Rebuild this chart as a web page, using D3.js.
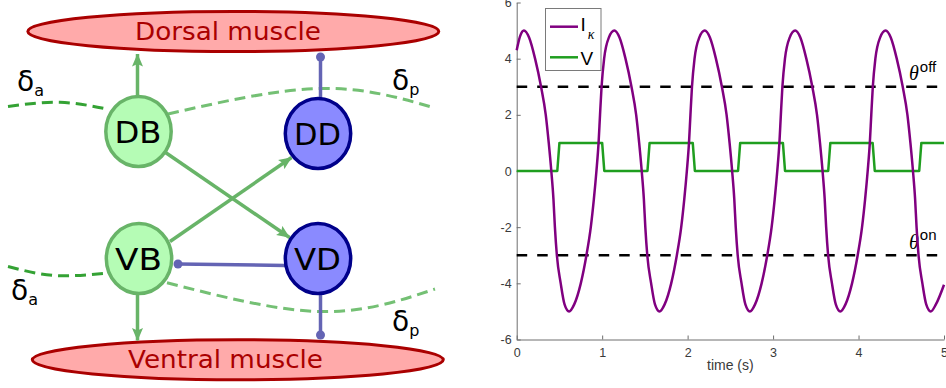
<!DOCTYPE html>
<html>
<head>
<meta charset="utf-8">
<script src="https://cdn.jsdelivr.net/npm/d3@7"></script>
<style>
body{margin:0;background:#fff;}
svg{display:block;}
</style>
</head>
<body>
<script>
// values
var timeI = [0, 0.04, 0.085, 0.145, 0.215, 0.285, 0.34, 0.375, 0.405, 0.43, 0.447, 0.47, 0.515, 0.56, 0.613,
  0.673, 0.75, 0.816, 0.867, 0.903, 0.933, 0.958, 0.975, 0.993, 1.023, 1.078, 1.143,
  1.203, 1.273, 1.343, 1.398, 1.433, 1.463, 1.488, 1.505, 1.528, 1.573, 1.618, 1.671,
  1.731, 1.808, 1.874, 1.925, 1.961, 1.991, 2.016, 2.033, 2.051, 2.081, 2.136, 2.201,
  2.261, 2.331, 2.401, 2.456, 2.491, 2.521, 2.546, 2.563, 2.586, 2.631, 2.676, 2.729,
  2.789, 2.866, 2.932, 2.983, 3.019, 3.049, 3.074, 3.091, 3.109, 3.139, 3.194, 3.259,
  3.319, 3.389, 3.459, 3.514, 3.549, 3.579, 3.604, 3.621, 3.644, 3.689, 3.734, 3.787,
  3.847, 3.924, 3.99, 4.041, 4.077, 4.107, 4.132, 4.149, 4.167, 4.197, 4.252, 4.317,
  4.377, 4.447, 4.517, 4.572, 4.607, 4.637, 4.662, 4.679, 4.702, 4.747, 4.792, 4.845,
  4.905, 5.0];
var currentI = [4.3, 4.8, 5, 4.75, 4, 3, 2, 1, 0, -1, -2, -3, -4, -4.75, -5,
  -4.75, -4, -3, -2, -1, 0, 1, 2, 3, 4, 4.75, 5,
  4.75, 4, 3, 2, 1, 0, -1, -2, -3, -4, -4.75, -5,
  -4.75, -4, -3, -2, -1, 0, 1, 2, 3, 4, 4.75, 5,
  4.75, 4, 3, 2, 1, 0, -1, -2, -3, -4, -4.75, -5,
  -4.75, -4, -3, -2, -1, 0, 1, 2, 3, 4, 4.75, 5,
  4.75, 4, 3, 2, 1, 0, -1, -2, -3, -4, -4.75, -5,
  -4.75, -4, -3, -2, -1, 0, 1, 2, 3, 4, 4.75, 5,
  4.75, 4, 3, 2, 1, 0, -1, -2, -3, -4, -4.75, -5,
  -4.75, -4.05];
var timeV = [0, 0.475, 0.5, 1.0, 1.025, 1.53, 1.555, 2.06, 2.085, 2.59, 2.615, 3.115, 3.14,
  3.645, 3.67, 4.165, 4.19, 4.71, 4.735, 5.0];
var voltV = [0, 0, 1, 1, 0, 0, 1, 1, 0, 0, 1, 1, 0, 0, 1, 1, 0, 0, 1, 1];
var thresholds = [3, -3];
var thresholdNames = ["off", "on"];
var xTicks = [0, 1, 2, 3, 4, 5];
var yTicks = [6, 4, 2, 0, -2, -4, -6];
var seriesNames = ["I", "V"];

var cellNames = ["DB", "DD", "VB", "VD"];
var muscleNames = ["Dorsal muscle", "Ventral muscle"];

var W = 946, H = 388;
var svg = d3.select("body").append("svg").attr("width", W).attr("height", H)
  .attr("viewBox", "0,0," + W + "," + H);

//COLOURS
var green = "#68b468", greenFill = "#b5fcb5";
var blue = "#6464b4", blueFill = "#8a8aff", navy = "#00008a";
var muscleRed = "#aa0000", muscleFill = "#ffaaaa";
var purple = "#800080", vGreen = "#1f9e1f";

// ---------------- left: circuit diagram ----------------
var diag = svg.append("g").attr("id", "diagram");
var defs = svg.append("defs");
defs.append("marker").attr("id", "arrowGreen")
  .attr("viewBox", "0 0 13 12").attr("refX", 12.5).attr("refY", 6)
  .attr("markerWidth", 13).attr("markerHeight", 12)
  .attr("markerUnits", "userSpaceOnUse").attr("orient", "auto")
  .append("path").attr("d", "M0,0.5 L13,6 L0,11.5 L2.5,6 Z").attr("fill", green);

var cellPos = {DB: [138.5, 131.5], DD: [318, 133.5], VB: [139, 258.5], VD: [318, 258.5]};
var musclePos = [[233.3, 31.5, 205.5, 20], [237.8, 359.8, 205.5, 20]];
var muscleText = [[228, 40, 186], [225.5, 368, 195]];

// dashed coupling curves
var curve = d3.line().curve(d3.curveNatural);
var dashed = [
  {pts: [[8, 106.5], [60, 102.3], [108, 109.3]], col: "#34a234", dash: "11,6"},
  {pts: [[168, 114], [320, 88.5], [435, 108]], col: "#74c074", dash: "11,6"},
  {pts: [[8, 266.5], [55, 275.5], [107, 273]], col: "#34a234", dash: "11,6"},
  {pts: [[167, 282.7], [320, 311.5], [435, 289]], col: "#74c074", dash: "11,6"}
];
dashed.forEach(function(d){
  diag.append("path").attr("d", curve(d.pts)).attr("fill", "none")
    .attr("stroke", d.col).attr("stroke-width", 3).attr("stroke-dasharray", d.dash);
});

// muscles
musclePos.forEach(function(m, i){
  diag.append("ellipse").attr("cx", m[0]).attr("cy", m[1]).attr("rx", m[2]).attr("ry", m[3])
    .attr("fill", muscleFill).attr("stroke", muscleRed).attr("stroke-width", 3);
  diag.append("text").attr("x", muscleText[i][0]).attr("y", muscleText[i][1])
    .attr("text-anchor", "middle").attr("font-family", "DejaVu Sans").attr("font-size", 24)
    .attr("textLength", muscleText[i][2]).attr("lengthAdjust", "spacingAndGlyphs")
    .attr("fill", muscleRed).text(muscleNames[i]);
});

// connections
function link(a, b, col, head){
  var l = diag.append("line").attr("x1", a[0]).attr("y1", a[1]).attr("x2", b[0]).attr("y2", b[1])
    .attr("stroke", col).attr("stroke-width", 3.5);
  if(head == "arrow") l.attr("marker-end", "url(#arrowGreen)");
}
function dot(p){
  diag.append("circle").attr("cx", p[0]).attr("cy", p[1]).attr("r", 4.5).attr("fill", blue);
}
link([137.5, 97], [137.5, 54], green, "arrow");
link([320.5, 98], [320.5, 57], blue); dot([320.5, 57]);
link([165.5, 152.5], [289.5, 237.5], green, "arrow");
link([170, 241.5], [291.5, 157.5], green, "arrow");
link([178, 264], [285, 265.5], blue); dot([178, 264]);
link([137.5, 294], [137.5, 340.5], green, "arrow");
link([320.5, 294], [320.5, 335], blue); dot([320.5, 335]);

// cells
cellNames.forEach(function(name){
  var p = cellPos[name];
  var isB = name.charAt(1) == "B";
  diag.append("ellipse").attr("cx", p[0]).attr("cy", p[1]).attr("rx", 32.7).attr("ry", 35)
    .attr("fill", isB ? greenFill : blueFill).attr("stroke", isB ? green : navy).attr("stroke-width", 3.5);
  diag.append("text").attr("x", p[0] - 0.5).attr("y", p[1] + 11.5).attr("text-anchor", "middle")
    .attr("font-family", "DejaVu Sans").attr("font-size", 30)
    .attr("textLength", 47).attr("lengthAdjust", "spacingAndGlyphs")
    .attr("fill", "#000").text(name);
});

// delta labels
var deltaLabels = [[17, 91, "a"], [392, 90, "p"], [11, 300, "a"], [392, 331, "p"]];
deltaLabels.forEach(function(d){
  var t = diag.append("text").attr("x", d[0]).attr("y", d[1])
    .attr("font-family", "DejaVu Sans").attr("font-size", 28).attr("fill", "#000");
  t.append("tspan").text("δ");
  t.append("tspan").attr("font-size", 16).attr("dy", 5).text(d[2]);
});

// ---------------- right: time plot ----------------
var plot = svg.append("g").attr("id", "plot");
var x = d3.scaleLinear().domain([0, 5]).range([516.7, 944]);
var y = d3.scaleLinear().domain([-6, 6]).range([339.5, 2.5]);

var axisCol = "#6e6e6e", labelCol = "#3a3a3a";
var plain = function(d){ return String(d); };
var xAxis = plot.append("g").attr("transform", "translate(0," + y(-6) + ")")
  .call(d3.axisBottom(x).tickValues(xTicks).tickFormat(plain).tickSizeInner(-4).tickSizeOuter(0).tickPadding(9));
var yAxis = plot.append("g").attr("transform", "translate(" + x(0) + ",0)")
  .call(d3.axisLeft(y).tickValues(yTicks).tickFormat(plain).tickSizeInner(-4).tickSizeOuter(0).tickPadding(5));
[xAxis, yAxis].forEach(function(a){
  a.select(".domain").attr("stroke", axisCol);
  a.selectAll(".tick line").attr("stroke", axisCol);
  a.selectAll("text").attr("fill", labelCol).attr("font-family", "Liberation Sans").attr("font-size", 12.5);
});

plot.append("text").attr("x", x(2.5)).attr("y", 370).attr("text-anchor", "middle")
  .attr("font-family", "Liberation Sans").attr("font-size", 14).attr("fill", labelCol).text("time (s)");

// threshold lines
thresholds.forEach(function(th, i){
  plot.append("line").attr("x1", x(0)).attr("x2", x(5)).attr("y1", y(th)).attr("y2", y(th))
    .attr("stroke", "#000").attr("stroke-width", 2.5).attr("stroke-dasharray", "10.5,10");
  var lab = plot.append("text").attr("x", 909).attr("y", y(th) - 6.5).attr("fill", "#000");
  lab.append("tspan").attr("font-family", "Liberation Serif").attr("font-style", "italic")
    .attr("font-size", 20).text("θ");
  lab.append("tspan").attr("font-family", "Liberation Sans").attr("font-size", 15)
    .attr("dx", 1).attr("dy", -8.5).text(thresholdNames[i]);
});

var iLine = d3.line().x(function(d){ return x(d[0]); }).y(function(d){ return y(d[1]); })
  .curve(d3.curveMonotoneX);
var vLine = d3.line().x(function(d){ return x(d[0]); }).y(function(d){ return y(d[1]); });

plot.append("path").attr("d", vLine(d3.zip(timeV, voltV))).attr("fill", "none")
  .attr("stroke", vGreen).attr("stroke-width", 2.5).attr("stroke-linejoin", "round");
plot.append("path").attr("d", iLine(d3.zip(timeI, currentI))).attr("fill", "none")
  .attr("stroke", purple).attr("stroke-width", 2.5);

// legend
var leg = plot.append("g");
leg.append("rect").attr("x", 545.5).attr("y", 8.5).attr("width", 55.5).attr("height", 62)
  .attr("fill", "#fff").attr("stroke", "#7a7a7a").attr("stroke-width", 1);
[[purple, 26.7], [vGreen, 57.3]].forEach(function(s, i){
  leg.append("line").attr("x1", 550).attr("x2", 578).attr("y1", s[1]).attr("y2", s[1])
    .attr("stroke", s[0]).attr("stroke-width", 2.5);
  var t = leg.append("text").attr("x", 580.5).attr("y", s[1] + (i == 0 ? 4.5 : 8))
    .attr("font-family", "Liberation Sans").attr("font-size", 19).attr("fill", "#000")
    .text(seriesNames[i]);
  if(i == 0){
    t.append("tspan").attr("font-family", "Liberation Serif").attr("font-style", "italic")
      .attr("font-size", 14).attr("dx", 2).attr("dy", 8).text("κ");
  }
});
</script>
</body>
</html>
